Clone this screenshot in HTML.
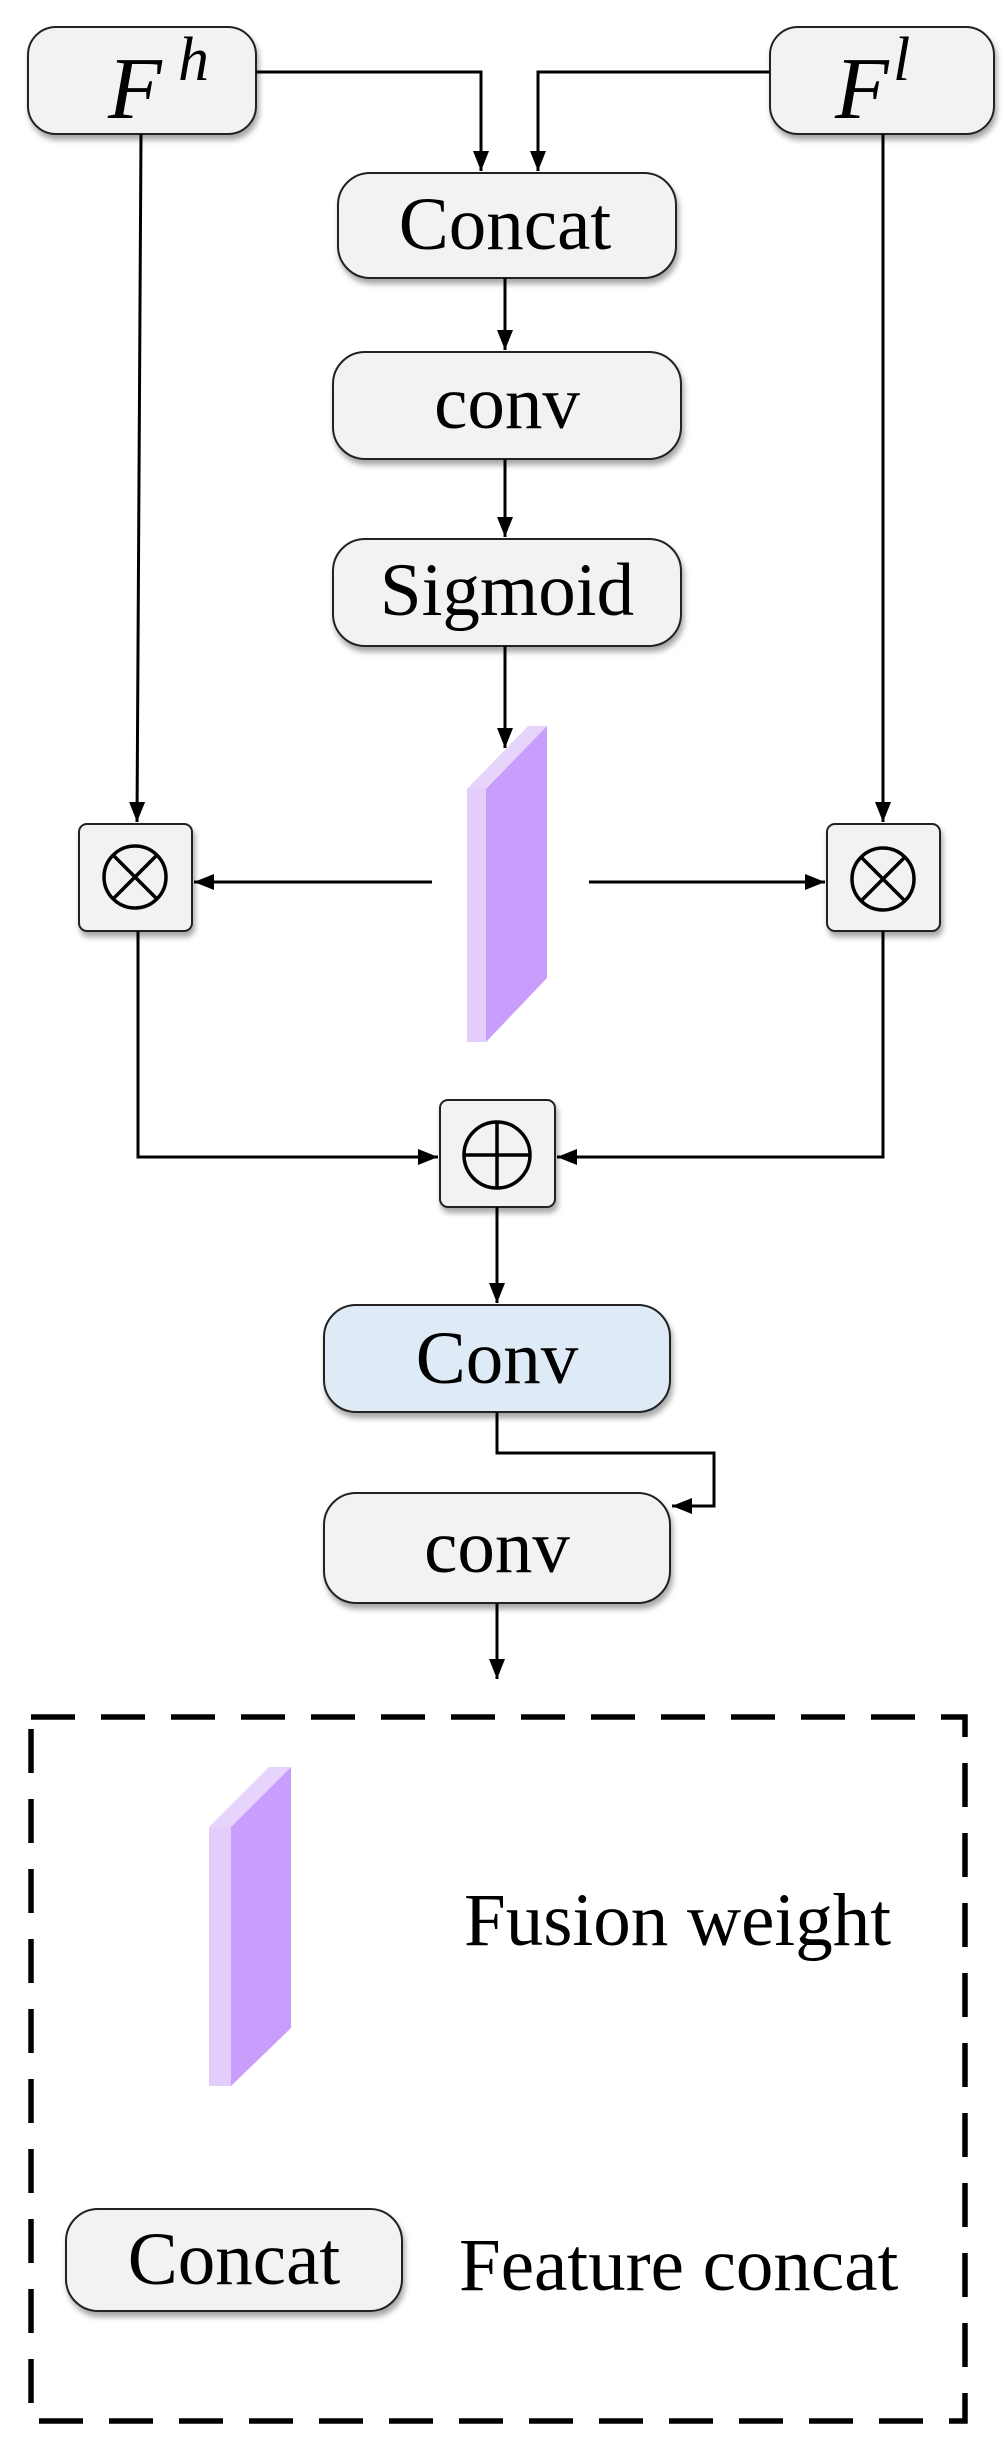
<!DOCTYPE html>
<html><head><meta charset="utf-8"><style>html,body{margin:0;padding:0;background:#fff}svg{display:block}</style></head>
<body>
<svg width="1006" height="2454" viewBox="0 0 1006 2454" xmlns="http://www.w3.org/2000/svg" font-family="Liberation Serif, serif">
<defs>
<marker id="b" viewBox="0 0 10 10" refX="10" refY="5" markerWidth="20" markerHeight="20" markerUnits="userSpaceOnUse" orient="auto"><path d="M0,1 L10,5 L0,9 z" fill="#000"/></marker>
<filter id="s" x="-10%" y="-10%" width="120%" height="130%"><feDropShadow dx="2" dy="5" stdDeviation="3" flood-color="#000" flood-opacity="0.35"/></filter>
</defs>
<g fill="#f2f2f2" stroke="#222" stroke-width="2" filter="url(#s)">
<rect x="28" y="27" width="228" height="107" rx="28"/>
<rect x="770" y="27" width="224" height="107" rx="28"/>
<rect x="338" y="173" width="338" height="105" rx="32"/>
<rect x="333" y="352" width="348" height="107" rx="32"/>
<rect x="333" y="539" width="348" height="107" rx="32"/>
<rect x="79" y="824" width="113" height="107" rx="8"/>
<rect x="827" y="824" width="113" height="107" rx="8"/>
<rect x="440" y="1100" width="115" height="107" rx="8"/>
<rect x="324" y="1305" width="346" height="107" rx="32" fill="#deeaf6"/>
<rect x="324" y="1493" width="346" height="110" rx="32"/>
<rect x="66" y="2209" width="336" height="102" rx="32"/>
</g>
<g font-size="75" text-anchor="middle" fill="#000">
<text x="505" y="249">Concat</text>
<text x="507" y="428">conv</text>
<text x="507" y="615">Sigmoid</text>
<text x="497" y="1383">Conv</text>
<text x="497" y="1572">conv</text>
<text x="234" y="2284">Concat</text>
</g>
<text x="108" y="118" font-size="88" font-style="italic">F</text>
<text x="178" y="80" font-size="62" font-style="italic">h</text>
<text x="835" y="118" font-size="88" font-style="italic">F</text>
<text x="893" y="80" font-size="62" font-style="italic">l</text>
<text x="464" y="1945" font-size="75">Fusion weight</text>
<text x="459" y="2290" font-size="75">Feature concat</text>
<g stroke="#000" stroke-width="3.5" fill="none">
<circle cx="135" cy="877" r="31"/><path d="M113,855 L157,899 M157,855 L113,899"/>
<circle cx="883" cy="879" r="31"/><path d="M861,857 L905,901 M905,857 L861,901"/>
<circle cx="497" cy="1155" r="33"/><path d="M464,1155 H530 M497,1122 V1188"/>
</g>
<g stroke="#000" stroke-width="3" fill="none" marker-end="url(#b)">
<path d="M256,72 H481 V171"/>
<path d="M770,72 H538 V171"/>
<path d="M505,278 V350"/>
<path d="M505,459 V537"/>
<path d="M505,646 V748"/>
<path d="M141,134 L137,822"/>
<path d="M883,134 V822"/>
<path d="M432,882 H194"/>
<path d="M589,882 H825"/>
<path d="M138,931 V1157 H438"/>
<path d="M883,931 V1157 H557"/>
<path d="M497,1207 V1303"/>
<path d="M497,1412 V1453 H714 V1506 H672"/>
<path d="M497,1603 V1679"/>
</g>
<polygon points="467,789 486,789 547,726 528,726" fill="#e6d4fb"/>
<polygon points="467,789 486,789 486,1042 467,1042" fill="#e3cdfc"/>
<polygon points="486,789 547,726 547,978 486,1042" fill="#c99dfb"/>
<polygon points="209,1827 231,1827 291,1767 269,1767" fill="#e6d4fb"/>
<polygon points="209,1827 231,1827 231,2086 209,2086" fill="#e3cdfc"/>
<polygon points="231,1827 291,1767 291,2028 231,2086" fill="#c99dfb"/>
<rect x="31" y="1717" width="934" height="704" fill="none" stroke="#000" stroke-width="5.5" stroke-dasharray="44,26"/>
</svg>
</body></html>
